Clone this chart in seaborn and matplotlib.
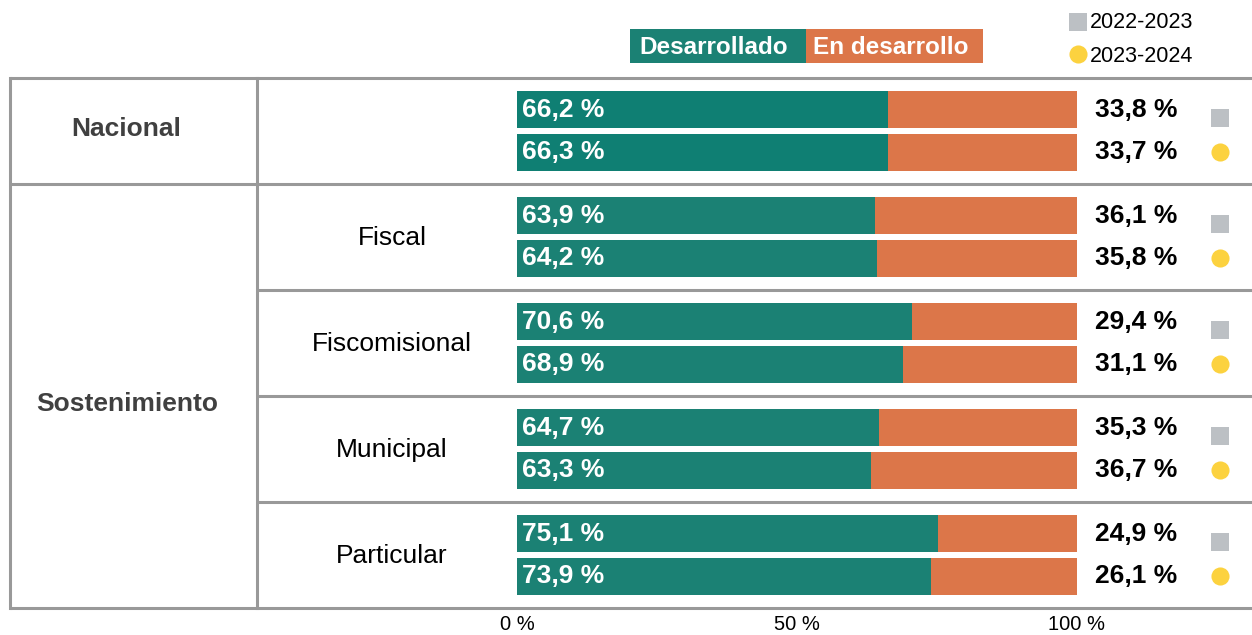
import pandas as pd
import matplotlib.pyplot as plt
import seaborn as sns
from matplotlib.patches import Rectangle
from matplotlib.transforms import blended_transform_factory

# --- datos ---
grupos = ['Nacional', 'Fiscal', 'Fiscomisional', 'Municipal', 'Particular']
periodos = ['2022-2023', '2023-2024']
desarrollado = [66.2, 66.3, 63.9, 64.2, 70.6, 68.9, 64.7, 63.3, 75.1, 73.9]
en_desarrollo = [33.8, 33.7, 36.1, 35.8, 29.4, 31.1, 35.3, 36.7, 24.9, 26.1]
etiqueta_des = ['66,2 %', '66,3 %', '63,9 %', '64,2 %', '70,6 %',
                '68,9 %', '64,7 %', '63,3 %', '75,1 %', '73,9 %']
etiqueta_en = ['33,8 %', '33,7 %', '36,1 %', '35,8 %', '29,4 %',
               '31,1 %', '35,3 %', '36,7 %', '24,9 %', '26,1 %']

# --- colores ---
VERDE = '#1B8174'
VERDE_NAC = '#0F7F73'
NARANJA = '#DC7649'
GRIS_LINEA = '#999999'
GRIS_MARCA = '#BCC0C4'
AMARILLO = '#FCD23F'

# posiciones de fila: 2 barras por grupo, separación 2.5 entre grupos
filas = []
for g, grupo in enumerate(grupos):
    for k, per in enumerate(periodos):
        filas.append({'grupo': grupo, 'periodo': per, 'pos': g * 2.5 + k,
                      'color': 'nac' if g == 0 else 'otro'})
df = pd.DataFrame(filas)
df['desarrollado'] = desarrollado
df['total'] = [a + b for a, b in zip(desarrollado, en_desarrollo)]

plt.rcParams['font.family'] = ['Liberation Sans', 'DejaVu Sans']

fig = plt.figure(figsize=(12.52, 6.35), dpi=100)
ax = fig.add_axes([517 / 1252, 27 / 635, 560 / 1252, 530 / 635])

# barras apiladas: total (naranja) y desarrollado (verde) encima
sns.barplot(data=df, x='total', y='pos', orient='h', native_scale=True,
            color=NARANJA, width=0.87, saturation=1, ax=ax, errorbar=None)
sns.barplot(data=df, x='desarrollado', y='pos', orient='h', native_scale=True,
            hue='color', palette={'nac': VERDE_NAC, 'otro': VERDE}, dodge=False,
            legend=False, width=0.87, saturation=1, ax=ax, errorbar=None)

ax.set_xlim(0, 100)
ax.set_ylim(11.75, -0.75)
ax.set_xlabel('')
ax.set_ylabel('')
ax.set_yticks([])
ax.set_xticks([0, 50, 100])
ax.set_xticklabels(['0 %', '50 %', '100 %'], fontsize=14.5)
ax.tick_params(axis='x', length=0, pad=5)
for s in ax.spines.values():
    s.set_visible(False)
ax.grid(False)

# etiquetas de valores
for p, lab_d, lab_e in zip(df['pos'], etiqueta_des, etiqueta_en):
    ax.text(0.9, p, lab_d, color='white', fontweight='bold', fontsize=19,
            va='center', ha='left')
    ax.text(103.2, p, lab_e, color='black', fontweight='bold', fontsize=19,
            va='center', ha='left', clip_on=False)

# marcadores por periodo
pos_a = df.loc[df['periodo'] == periodos[0], 'pos']
pos_b = df.loc[df['periodo'] == periodos[1], 'pos']
ax.scatter([125.5] * len(pos_a), pos_a + 0.2, marker='s', s=150,
           color=GRIS_MARCA, clip_on=False, linewidths=0)
ax.scatter([125.5] * len(pos_b), pos_b, marker='o', s=170,
           color=AMARILLO, clip_on=False, linewidths=0)

# --- tabla: líneas ---
tr = blended_transform_factory(fig.transFigure, ax.transData)
x_izq, x_med, x_der = 10 / 1252, 257 / 1252, 1.0
lw = 2.2
limites = [g * 2.5 - 0.75 for g in range(len(grupos) + 1)]
for i, yb in enumerate(limites):
    x0 = x_izq if i in (0, 1, len(limites) - 1) else x_med
    ax.plot([x0, x_der], [yb, yb], color=GRIS_LINEA, lw=lw, transform=tr,
            clip_on=False, solid_capstyle='butt')
for xv in (x_izq, x_med):
    ax.plot([xv, xv], [limites[0], limites[-1]], color=GRIS_LINEA, lw=lw,
            transform=tr, clip_on=False)

# --- textos de la tabla ---
ax.text(126 / 1252, 0.45, 'Nacional', transform=tr, ha='center', va='center',
        fontsize=19, fontweight='bold', color='#404040')
ax.text(127 / 1252, 6.93, 'Sostenimiento', transform=tr, ha='center', va='center',
        fontsize=19, fontweight='bold', color='#404040')
for g, grupo in enumerate(grupos[1:], start=1):
    ax.text(392 / 1252, g * 2.5 + 0.53, grupo, transform=tr, ha='center',
            va='center', fontsize=19, color='black')

# --- leyendas superiores ---
fig.add_artist(Rectangle((630 / 1252, 1 - 63 / 635), 176 / 1252, 34 / 635,
                         transform=fig.transFigure, color=VERDE, lw=0))
fig.add_artist(Rectangle((806 / 1252, 1 - 63 / 635), 177 / 1252, 34 / 635,
                         transform=fig.transFigure, color=NARANJA, lw=0))
fig.text(714 / 1252, 1 - 47 / 635, 'Desarrollado', color='white',
         fontweight='bold', fontsize=17.5, ha='center', va='center')
fig.text(891 / 1252, 1 - 47 / 635, 'En desarrollo', color='white',
         fontweight='bold', fontsize=17.5, ha='center', va='center')

ax.scatter([1078 / 1252], [1 - 22 / 635], marker='s', s=150, color=GRIS_MARCA,
           transform=fig.transFigure, clip_on=False, linewidths=0)
ax.scatter([1078 / 1252], [1 - 54 / 635], marker='o', s=170, color=AMARILLO,
           transform=fig.transFigure, clip_on=False, linewidths=0)
fig.text(1090 / 1252, 1 - 22 / 635, periodos[0], fontsize=15.5, va='center')
fig.text(1090 / 1252, 1 - 56 / 635, periodos[1], fontsize=15.5, va='center')

fig.savefig('out.png', dpi=100)
